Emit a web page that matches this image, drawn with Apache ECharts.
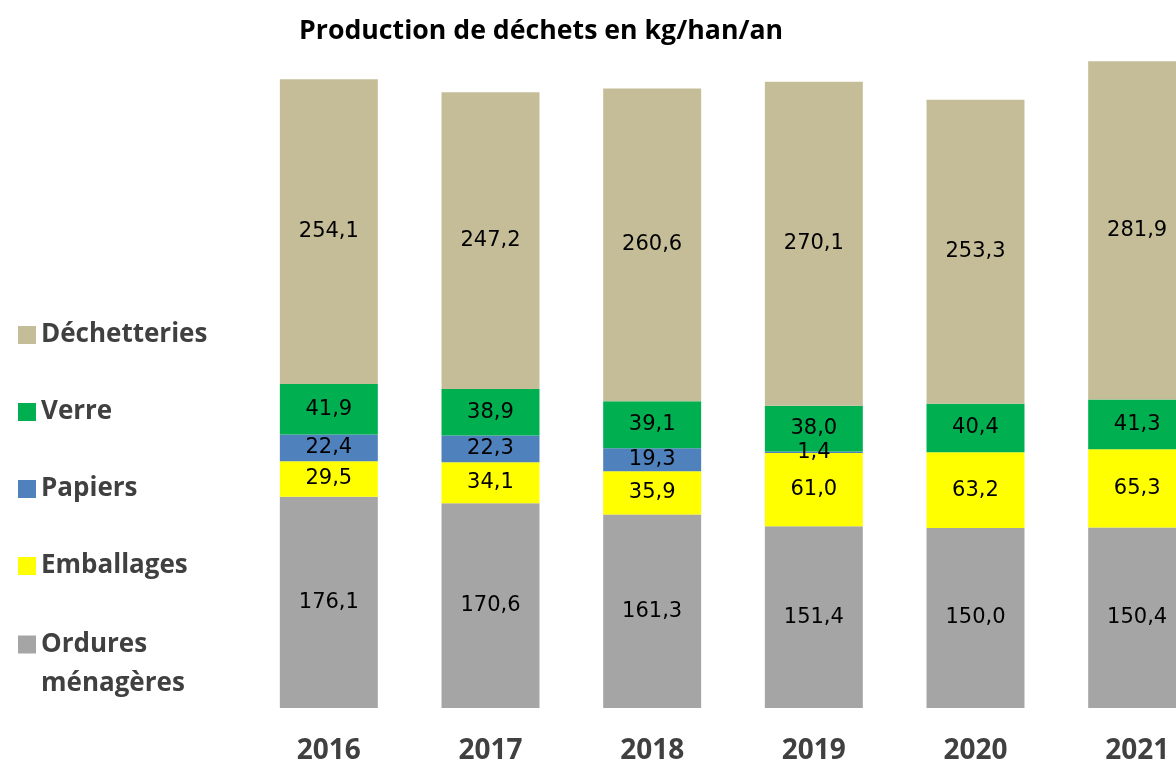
<!DOCTYPE html>
<html>
<head>
<meta charset="utf-8">
<script src="https://cdn.jsdelivr.net/npm/echarts@6/dist/echarts.min.js"></script>
<style>
  html, body { margin: 0; padding: 0; background: #fff; overflow: hidden; }
  /* la dernière barre (2021) est coupée par le bord droit : le canvas déborde */
  #chart { width: 1220px; height: 760px; }
</style>
</head>
<body>
<div id="chart"></div>
<script>
// données (kg/han/an)
const years = ['2016', '2017', '2018', '2019', '2020', '2021']
const ordures = [176.1, 170.6, 161.3, 151.4, 150.0, 150.4]
const emballages = [29.5, 34.1, 35.9, 61.0, 63.2, 65.3]
const papiers = [22.4, 22.3, 19.3, 1.4, 0, 0]
const verre = [41.9, 38.9, 39.1, 38.0, 40.4, 41.3]
const dechetteries = [254.1, 247.2, 260.6, 270.1, 253.3, 281.9]

const fontFamily = '"Open Sans", "DejaVu Sans", sans-serif'

const chart = echarts.init(document.getElementById('chart'))

function fmt (p) {
  if (!p.value) return ''
  return p.value.toFixed(1).replace('.', ',')
}

function serie (name, data, color) {
  return {
    name: name,
    type: 'bar',
    stack: 'total',
    barWidth: '60.6%',
    data: data,
    itemStyle: { color: color },
    label: {
      show: true,
      position: 'inside',
      formatter: fmt,
      color: '#000',
      fontSize: 21,
      fontFamily: '"DejaVu Sans", sans-serif'
    },
    emphasis: { disabled: true }
  }
}

const legendText = {
  fontSize: 26,
  fontWeight: 'bold',
  color: '#404040',
  fontFamily: fontFamily
}

chart.setOption({
  animation: false,
  title: {
    text: 'Production de déchets en kg/han/an',
    left: 294,
    top: 13,
    textStyle: {
      fontSize: 26.7,
      fontWeight: 'bold',
      color: '#000',
      fontFamily: fontFamily
    }
  },
  legend: [{
    orient: 'vertical',
    left: 13,
    top: 315,
    itemWidth: 18,
    itemHeight: 18,
    itemGap: 47,
    icon: 'rect',
    selectedMode: false,
    textStyle: Object.assign({ lineHeight: 30 }, legendText),
    data: ['Déchetteries', 'Verre', 'Papiers', 'Emballages']
  }, {
    // deux lignes : le carré est aligné sur la première
    orient: 'vertical',
    left: 13,
    top: 620,
    itemWidth: 18,
    itemHeight: 78,
    icon: 'path://M0,0L0,78M0,10.5H18V28.5H0Z',
    selectedMode: false,
    textStyle: Object.assign({ lineHeight: 39 }, legendText),
    formatter: function () { return 'Ordures\nménagères' },
    data: ['Ordures ménagères']
  }],
  grid: {
    left: 248,
    width: 970,
    top: 48,
    bottom: 52,
    containLabel: false,
    outerBoundsMode: 'none'
  },
  xAxis: {
    type: 'category',
    data: years,
    axisLine: { show: false },
    axisTick: { show: false },
    axisLabel: {
      margin: 29,
      fontSize: 28,
      fontWeight: 'bold',
      color: '#404040',
      fontFamily: fontFamily
    }
  },
  yAxis: {
    type: 'value',
    min: 0,
    max: 550,
    show: false,
    splitLine: { show: false }
  },
  series: [
    serie('Ordures ménagères', ordures, '#A5A5A5'),
    serie('Emballages', emballages, '#FFFF00'),
    serie('Papiers', papiers, '#4F81BD'),
    serie('Verre', verre, '#00B050'),
    serie('Déchetteries', dechetteries, '#C4BD97')
  ]
})
</script>
</body>
</html>
